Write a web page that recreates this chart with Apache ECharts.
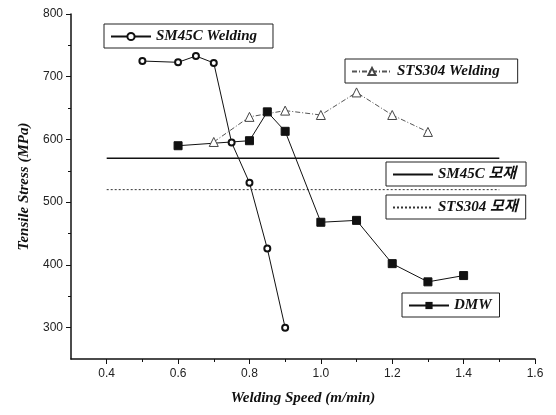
<!DOCTYPE html>
<html>
<head>
<meta charset="utf-8">
<script src="https://cdn.jsdelivr.net/npm/echarts@6/dist/echarts.min.js"></script>
<style>html,body{margin:0;padding:0;background:#fff;}#c{width:556px;height:415px;}</style>
</head>
<body>
<div id="c"></div>
<script>
var xMajorTicks = [0.4, 0.6, 0.8, 1.0, 1.2, 1.4, 1.6];
var xMinorTicks = [0.5, 0.7, 0.9, 1.1, 1.3, 1.5];
var yMajorTicks = [300, 400, 500, 600, 700, 800];
var yMinorTicks = [350, 450, 550, 650, 750];

var sm45cWelding = [[0.5, 725], [0.6, 723], [0.65, 733], [0.7, 722], [0.75, 595], [0.8, 531], [0.85, 426], [0.9, 300]];
var sts304Welding = [[0.7, 596], [0.8, 636], [0.9, 646], [1.0, 639], [1.1, 675], [1.2, 639], [1.3, 612]];
var dmw = [[0.6, 590], [0.8, 598], [0.85, 644], [0.9, 613], [1.0, 468], [1.1, 471], [1.2, 402], [1.3, 373], [1.4, 383]];
var sm45cBase = [[0.4, 570], [1.5, 570]];
var sts304Base = [[0.4, 520], [1.5, 520]];

var serif = "'Liberation Serif', 'Noto Sans CJK KR', serif";
var legendText = {fontFamily: serif, fontStyle: 'italic', fontWeight: 'bold', fontSize: 15, color: '#111'};
function box(name, left, top, hideSymbol, padRight) {
  var b = {
    data: [name], left: left, top: top, orient: 'horizontal',
    borderColor: '#222', borderWidth: 1, padding: [5, padRight, 4, 6],
    itemWidth: 40, itemHeight: 9, itemGap: 0,
    textStyle: legendText, selectedMode: false
  };
  if (hideSymbol) { b.itemStyle = {opacity: 0}; }
  return b;
}

var chart = echarts.init(document.getElementById('c'), null, {renderer: 'canvas'});
var axisColor = '#111';
chart.setOption({
  animation: false,
  backgroundColor: '#fff',
  grid: {left: 71, right: 21, top: 14, bottom: 56},
  legend: [
    box('SM45C Welding', 104, 24, false, 16),
    box('STS304 Welding', 345, 59, false, 18),
    box('SM45C 모재', 386, 162, true, 10),
    box('STS304 모재', 386, 195, true, 8),
    box('DMW', 402, 293, false, 8)
  ],
  xAxis: [{
    type: 'value', min: 0.3, max: 1.6,
    name: 'Welding Speed (m/min)', nameLocation: 'middle', nameGap: 32,
    nameTextStyle: {fontFamily: serif, fontStyle: 'italic', fontWeight: 'bold', fontSize: 15, color: '#111'},
    axisLine: {show: true, lineStyle: {color: axisColor, width: 1.5}},
    axisTick: {show: true, length: 5, customValues: xMajorTicks, lineStyle: {color: axisColor}},
    axisLabel: {customValues: xMajorTicks, fontFamily: 'Liberation Sans', fontSize: 12, color: '#222', margin: 9,
      formatter: function (v) { return v.toFixed(1); }},
    splitLine: {show: false}
  }, {
    type: 'value', min: 0.3, max: 1.6, position: 'bottom',
    axisLine: {show: false},
    axisTick: {show: true, length: 3, customValues: xMinorTicks, lineStyle: {color: axisColor}},
    axisLabel: {show: false}, splitLine: {show: false}
  }],
  yAxis: [{
    type: 'value', min: 250, max: 800,
    name: 'Tensile Stress (MPa)', nameLocation: 'middle', nameGap: 38,
    nameTextStyle: {fontFamily: serif, fontStyle: 'italic', fontWeight: 'bold', fontSize: 15, color: '#111'},
    axisLine: {show: true, lineStyle: {color: axisColor, width: 1.5}},
    axisTick: {show: true, length: 5, customValues: yMajorTicks, lineStyle: {color: axisColor}},
    axisLabel: {customValues: yMajorTicks, fontFamily: 'Liberation Sans', fontSize: 12, color: '#222', margin: 8},
    splitLine: {show: false}
  }, {
    type: 'value', min: 250, max: 800, position: 'left',
    axisLine: {show: false},
    axisTick: {show: true, length: 3, customValues: yMinorTicks, lineStyle: {color: axisColor}},
    axisLabel: {show: false}, splitLine: {show: false}
  }],
  series: [{
    name: 'SM45C Welding', type: 'line', data: sm45cWelding,
    symbol: 'circle', symbolSize: 6,
    lineStyle: {color: '#111', width: 1},
    itemStyle: {color: '#fff', borderColor: '#111', borderWidth: 2}
  }, {
    name: 'STS304 Welding', type: 'line', data: sts304Welding,
    symbol: 'triangle', symbolSize: 9,
    lineStyle: {color: '#555', width: 1, type: [5, 2, 1, 2]},
    itemStyle: {color: '#fff', borderColor: '#444', borderWidth: 1}
  }, {
    name: 'SM45C 모재', type: 'line', data: sm45cBase, symbol: 'none',
    lineStyle: {color: '#111', width: 1.5},
    itemStyle: {color: '#111'}
  }, {
    name: 'STS304 모재', type: 'line', data: sts304Base, symbol: 'none',
    lineStyle: {color: '#333', width: 1, type: [2, 2]},
    itemStyle: {color: '#333'}
  }, {
    name: 'DMW', type: 'line', data: dmw,
    symbol: 'rect', symbolSize: 8,
    lineStyle: {color: '#111', width: 1},
    itemStyle: {color: '#111', borderColor: '#111'}
  }]
});
</script>
</body>
</html>
